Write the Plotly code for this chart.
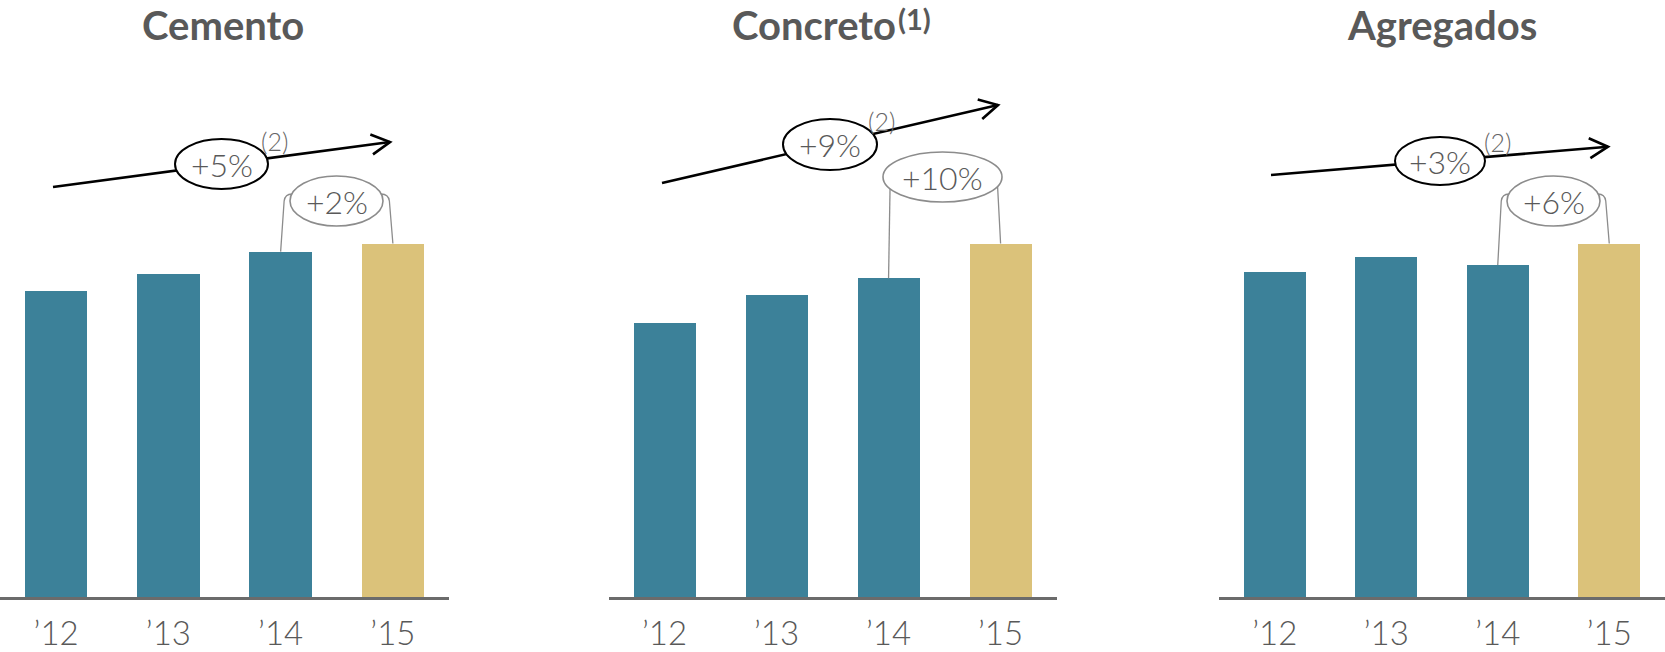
import math
import plotly.graph_objects as go

# ---------------- data ----------------
years = ["’12", "’13", "’14", "’15"]
titles = ["Cemento", "Concreto", "Agregados"]
title_notes = ["", "(1)", ""]
cemento = [86.6, 91.4, 97.7, 100.0]
concreto = [77.6, 85.4, 90.2, 100.0]
agregados = [92.0, 96.2, 93.9, 100.0]
cagr_labels = ["+5%", "+9%", "+3%"]
yoy_labels = ["+2%", "+10%", "+6%"]
cagr_note = "(2)"

series = [cemento, concreto, agregados]

# ---------------- layout / style ----------------
W, H = 1665, 652
BASE = 597.0          # pixel row of baseline
PPU = 3.535           # pixels per value unit
YMAX = BASE / PPU
panels_px = [(0.0, 449.0), (608.5, 1056.6), (1219.0, 1665.0)]

TEAL = "#3C8199"
GOLD = "#DBC27A"
TEXT = "#595959"
NOTE = "#666666"
ELL_GRAY = "#8C8C8C"
FONT = "Lato"

# decoration positions (pixels)
arrows = [((53, 187), (390, 142)), ((662, 183), (998, 105)), ((1271, 175), (1608, 146.7))]
big_ell = [(221.5, 164, 46.5, 25), (830, 144.5, 47, 25.5), (1440, 161, 45, 24)]
small_ell = [(336.5, 201, 46.5, 25), (942.5, 177, 59.5, 25), (1553.5, 201, 46.5, 25)]
note_pos = [(274.5, 141), (881.5, 120.5), (1497, 141.5)]
title_x = [222.5, 814, 1442]
title_note_x = [None, 914, None]


def cw(i):
    x0, x1 = panels_px[i]
    return (x1 - x0) / 4.0


def to_data(i, px, py):
    x0, _ = panels_px[i]
    return ((px - x0) / cw(i) - 0.5, (BASE - py) / PPU)


def to_px(i, x, y):
    x0, _ = panels_px[i]
    return (x0 + (x + 0.5) * cw(i), BASE - y * PPU)


fig = go.Figure()
shapes = []
annotations = []

for i, vals in enumerate(series):
    sfx = "" if i == 0 else str(i + 1)
    xa, ya = "x" + sfx, "y" + sfx
    colors = [TEAL] * (len(vals) - 1) + [GOLD]
    fig.add_trace(go.Bar(
        x=list(range(len(vals))), y=vals, marker=dict(color=colors, line=dict(width=0)),
        width=0.558, xaxis=xa, yaxis=ya, showlegend=False, hoverinfo="skip"))

    x0, x1 = panels_px[i]
    fig.layout["xaxis" + sfx] = dict(
        domain=[x0 / W, x1 / W], range=[-0.5, 3.5], anchor=ya,
        tickvals=list(range(len(years))), ticktext=years, showgrid=False, zeroline=False,
        showline=True, linecolor="#6B6B6B", linewidth=3, ticks="",
        tickfont=dict(family=FONT, size=33, color=TEXT, weight=300), ticklabelstandoff=5,
        fixedrange=True)
    fig.layout["yaxis" + sfx] = dict(
        domain=[(H - BASE) / H, 1.0], range=[0, YMAX], anchor=xa, visible=False,
        showgrid=False, zeroline=False, fixedrange=True)

    ref = dict(xref=xa, yref=ya)

    # CAGR arrow
    (sx, sy), (tx, ty) = arrows[i]
    d = math.hypot(tx - sx, ty - sy)
    ux, uy = (tx - sx) / d, (ty - sy) / d
    nx, ny = -uy, ux
    a1 = (tx - 18.5 * ux + 10 * nx, ty - 18.5 * uy + 10 * ny)
    a2 = (tx - 18.5 * ux - 10 * nx, ty - 18.5 * uy - 10 * ny)
    S = to_data(i, sx, sy)
    T = to_data(i, tx, ty)
    shapes.append(dict(type="line", x0=S[0], y0=S[1], x1=T[0], y1=T[1],
                       line=dict(color="black", width=2.6), **ref))
    A1 = to_data(i, *a1)
    A2 = to_data(i, *a2)
    shapes.append(dict(type="path", path=f"M {A1[0]},{A1[1]} L {T[0]},{T[1]} L {A2[0]},{A2[1]}",
                       line=dict(color="black", width=2.6), **ref))

    # big ellipse
    cx, cy, rx, ry = big_ell[i]
    p0 = to_data(i, cx - rx, cy + ry)
    p1 = to_data(i, cx + rx, cy - ry)
    shapes.append(dict(type="circle", x0=p0[0], y0=p0[1], x1=p1[0], y1=p1[1],
                       line=dict(color="black", width=2), fillcolor="white", layer="above", **ref))
    c = to_data(i, cx, cy)
    annotations.append(dict(x=c[0], y=c[1], text=cagr_labels[i], showarrow=False,
                            font=dict(family=FONT, size=32, color=TEXT, weight=300), **ref))
    nt = to_data(i, *note_pos[i])
    annotations.append(dict(x=nt[0], y=nt[1], text=cagr_note, showarrow=False,
                            font=dict(family=FONT, size=25, color=NOTE, weight=300), **ref))

    # year-over-year bracket
    cx, cy, rx, ry = small_ell[i]
    for idx in (len(vals) - 2, len(vals) - 1):
        bx, by = to_px(i, idx, vals[idx])
        if abs(bx - cx) < rx - 3:
            ey = cy + ry * math.sqrt(1 - ((bx - cx) / rx) ** 2)
            P = to_data(i, bx, by)
            Q = to_data(i, bx + (1 if bx < cx else -1) * 1.5, ey)
            path = f"M {P[0]},{P[1]} L {Q[0]},{Q[1]}"
        else:
            s = -1 if bx < cx else 1
            yy = cy - 7
            ex = cx + s * rx * math.sqrt(1 - (7 / ry) ** 2)
            P = to_data(i, bx, by)
            Q = to_data(i, bx - s * 3.5, cy)
            C = to_data(i, bx - s * 4.5, yy)
            E = to_data(i, ex, yy)
            path = f"M {P[0]},{P[1]} L {Q[0]},{Q[1]} Q {C[0]},{C[1]} {E[0]},{E[1]}"
        shapes.append(dict(type="path", path=path, line=dict(color=ELL_GRAY, width=1.3), **ref))
    p0 = to_data(i, cx - rx, cy + ry)
    p1 = to_data(i, cx + rx, cy - ry)
    shapes.append(dict(type="circle", x0=p0[0], y0=p0[1], x1=p1[0], y1=p1[1],
                       line=dict(color=ELL_GRAY, width=1.6), fillcolor="white", layer="above", **ref))
    c = to_data(i, cx, cy)
    annotations.append(dict(x=c[0], y=c[1], text=yoy_labels[i], showarrow=False,
                            font=dict(family=FONT, size=32, color=TEXT, weight=300), **ref))

    # titles
    annotations.append(dict(x=title_x[i] / W, y=1.0, xref="paper", yref="paper",
                            text=titles[i], showarrow=False, xanchor="center", yanchor="top",
                            borderpad=0,
                            font=dict(family=FONT, size=40, color=TEXT, weight="bold")))
    if title_notes[i]:
        annotations.append(dict(x=title_note_x[i] / W, y=1.0, xref="paper", yref="paper",
                                text=title_notes[i], showarrow=False, xanchor="center",
                                yanchor="top", borderpad=0,
                                font=dict(family=FONT, size=29, color=TEXT, weight="bold")))

fig.update_layout(
    width=W, height=H, margin=dict(l=0, r=0, t=0, b=0, pad=0),
    paper_bgcolor="white", plot_bgcolor="white", bargap=0,
    shapes=shapes, annotations=annotations, showlegend=False)

fig.write_html("out.html", config={"displayModeBar": False},
               post_script="document.body.style.margin='0';document.body.style.overflow='hidden';")
